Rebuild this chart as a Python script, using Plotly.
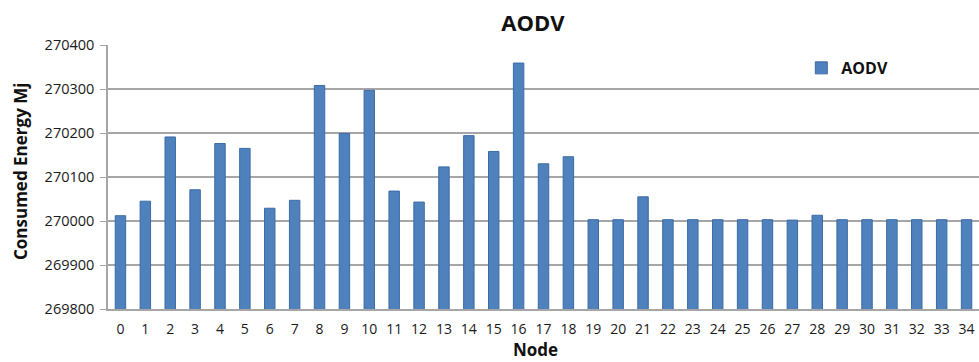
import plotly.graph_objects as go

nodes = [str(i) for i in range(35)]
consumed_energy = [
    270012, 270045, 270191, 270071, 270176, 270165, 270029, 270047, 270308,
    270199, 270297, 270068, 270043, 270123, 270194, 270158, 270359, 270130,
    270146, 270003, 270003, 270055, 270003, 270003, 270003, 270003, 270003,
    270002, 270013, 270003, 270003, 270003, 270003, 270003, 270003,
]
y_ticks = [269800, 269900, 270000, 270100, 270200, 270300, 270400]

FONT = "Open Sans"

fig = go.Figure()
fig.add_trace(go.Bar(
    x=nodes, y=consumed_energy, name="AODV",
    marker=dict(color="#4f81bd", line=dict(color="#3b6ba5", width=1)),
    width=0.42,
))

fig.update_layout(
    width=979, height=362,
    margin=dict(l=108, r=0, t=45, b=53),
    paper_bgcolor="white", plot_bgcolor="white",
    font=dict(family=FONT, size=13, color="#1a1a1a"),
    title=dict(text="<b>AODV</b>", x=533 / 979, xanchor="center",
               y=1 - 23 / 362, yanchor="middle",
               font=dict(family=FONT, size=22, color="#111")),
    showlegend=True,
    legend=dict(x=0.796, y=0.913, xanchor="left", yanchor="middle",
                bgcolor="rgba(0,0,0,0)", itemwidth=30,
                font=dict(family=FONT, size=16, color="#111", weight="bold")),
    xaxis=dict(type="category", range=[-0.5, 34.5], showgrid=False,
               showline=True, linecolor="#a6a6a6", linewidth=1.5,
               ticks="", ticklabelstandoff=6,
               tickfont=dict(family=FONT, size=14, color="#1a1a1a")),
    yaxis=dict(range=[269800, 270400], tickvals=y_ticks,
               ticktext=[str(v) for v in y_ticks],
               showgrid=True, gridcolor="#a6a6a6", gridwidth=1.5,
               showline=True, linecolor="#a6a6a6", linewidth=1.5,
               ticks="outside", ticklen=6, tickcolor="#a6a6a6",
               ticklabelstandoff=3,
               tickfont=dict(family=FONT, size=14.5, color="#1a1a1a")),
    annotations=[
        dict(text="<b>Consumed Energy Mj</b>", xref="paper", yref="paper",
             x=-88 / 871, y=(309 - 172) / 264, xanchor="center", yanchor="middle",
             textangle=-90, showarrow=False,
             font=dict(family=FONT, size=17, color="#111")),
        dict(text="<b>Node</b>", xref="paper", yref="paper",
             x=(535 - 108) / 871, y=-(349 - 309) / 264, xanchor="center", yanchor="middle",
             showarrow=False, font=dict(family=FONT, size=17, color="#111")),
    ],
)

fig.write_html("out.html")
